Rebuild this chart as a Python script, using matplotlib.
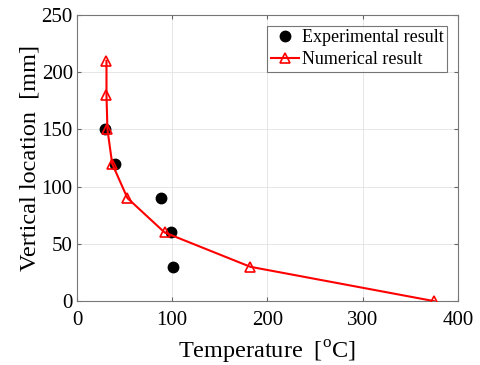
import numpy as np
import matplotlib
matplotlib.use('Agg')
import matplotlib.pyplot as plt

# experimental data
exp_temp = [29, 40, 88, 99, 101]
exp_loc = [150, 120, 90, 60, 30]

# numerical data
num_temp = [31, 31, 32, 37, 53, 92, 182, 375]
num_loc = [210, 180, 150, 120, 90, 60, 30, 0]

x_ticks = [0, 100, 200, 300, 400]
y_ticks = [0, 50, 100, 150, 200, 250]

plt.rcParams['font.family'] = ['Liberation Serif', 'DejaVu Serif']
plt.rcParams['mathtext.fontset'] = 'custom'
plt.rcParams['mathtext.rm'] = 'Liberation Serif'

fig = plt.figure(figsize=(4.81, 3.65), dpi=100)
ax = fig.add_axes([0.160, 0.175, 0.792, 0.784])

ax.plot(exp_temp, exp_loc, 'o', color='k', markersize=7.5, label='Experimental result', zorder=3)
ax.plot(num_temp, num_loc, '-^', color='#ff0000', markerfacecolor='none', markersize=6.5,
        markeredgewidth=1.2, linewidth=1.5, label='Numerical result', zorder=4)

ax.set_xlim(0, 400)
ax.set_ylim(0, 250)
ax.set_xticks(x_ticks)
ax.set_yticks(y_ticks)
ax.tick_params(labelsize=15, direction='in', top=True, right=True, length=3, color='#666666')
ax.tick_params(axis='x', pad=7)
ax.tick_params(axis='y', pad=3)
ax.grid(True, color='#e6e6e6', linewidth=0.7)
ax.set_axisbelow(True)
for s in ax.spines.values():
  s.set_color('#777777')
  s.set_linewidth(0.8)

ax.set_xlabel(r'Temperature  [$^{\rm o}$C]', fontsize=17.5, labelpad=6.5)
ax.set_ylabel('Vertical location  [mm]', fontsize=17.5, labelpad=1)

leg = ax.legend(loc='upper right', fontsize=13, frameon=True, fancybox=False,
                handlelength=1.55, handletextpad=0.17, borderaxespad=0.6, borderpad=0.2,
                labelspacing=0.25)
leg.get_frame().set_edgecolor('#555555')
leg.get_frame().set_linewidth(0.8)

fig.savefig('out.png', dpi=100)
